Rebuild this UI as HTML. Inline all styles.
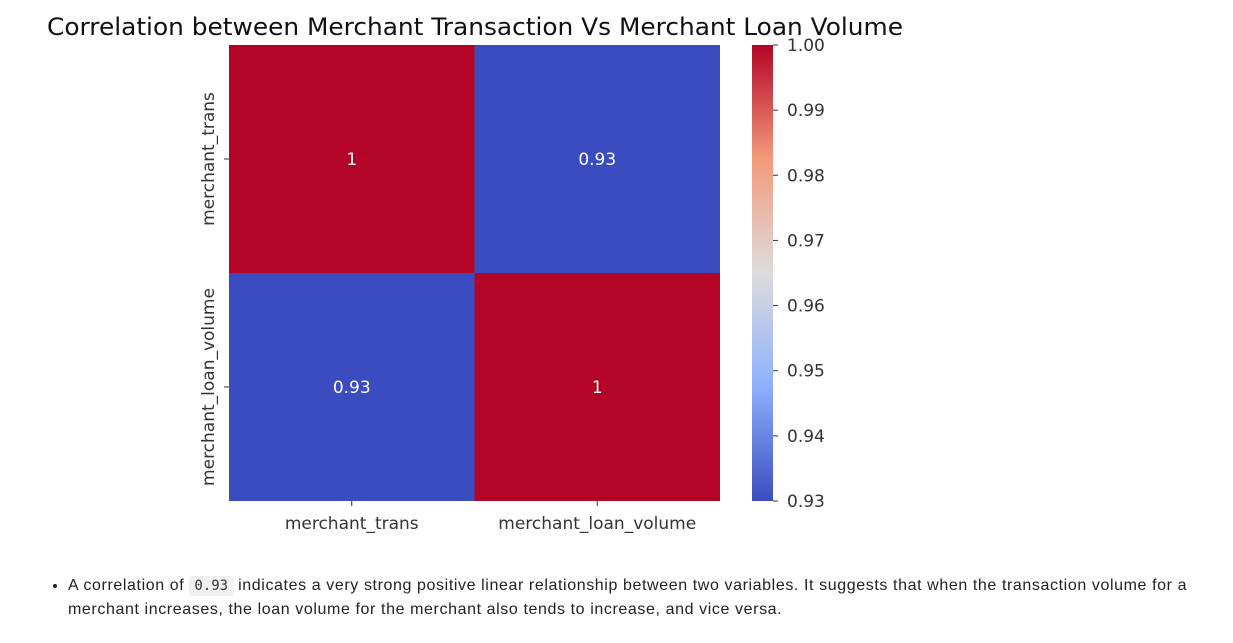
<!DOCTYPE html>
<html><head><meta charset="utf-8">
<style>
body{margin:0;background:#fff;width:1233px;height:643px;overflow:hidden;font-family:"Liberation Sans",sans-serif;}
#note{position:absolute;left:52px;top:574px;width:1180px;font-size:16px;letter-spacing:0.6px;line-height:23px;color:#222;white-space:nowrap;}
#note li{margin-left:16px;}
code{font-family:"DejaVu Sans Mono",monospace;background:#f0f0f0;padding:2px 5px;border-radius:3px;font-size:14px;letter-spacing:0;color:#333;}
svg{position:absolute;left:0;top:0;}
</style></head><body>
<svg id="chart" width="1233" height="560">
<defs><linearGradient id="cw" x1="0" y1="1" x2="0" y2="0">
<stop offset="0" stop-color="#3b4cc0"/><stop offset="0.25" stop-color="#8db0fe"/><stop offset="0.5" stop-color="#dddcdc"/><stop offset="0.75" stop-color="#f49a7b"/><stop offset="1" stop-color="#b40426"/>
</linearGradient></defs>
<text x="47" y="35" font-size="24" fill="#111" font-family="DejaVu Sans, sans-serif" textLength="856" lengthAdjust="spacingAndGlyphs">Correlation between Merchant Transaction Vs Merchant Loan Volume</text>
</svg>
<div id="note"><ul style="margin:0;padding:0;"><li>A correlation of <code>0.93</code> indicates a very strong positive linear relationship between two variables. It suggests that when the transaction volume for a<br>merchant increases, the loan volume for the merchant also tends to increase, and vice versa.</li></ul></div>
<script>
const labels = ["merchant_trans","merchant_loan_volume"];
const values = [[1,0.93],[0.93,1]];
const cbTicks = [0.93,0.94,0.95,0.96,0.97,0.98,0.99,1.00];
const vmin = 0.93, vmax = 1.0;

const svg = document.getElementById('chart');
const NS = 'http://www.w3.org/2000/svg';
const X0=229, X1=720, Y0=45, Y1=501;
const n = labels.length;
const cw=(X1-X0)/n, ch=(Y1-Y0)/n;
const xS = i => X0 + i*cw;
const yS = i => Y0 + i*ch;
const CB={x:752,w:21};
const cbY = v => Y1 - (v-vmin)/(vmax-vmin)*(Y1-Y0);
const FS=17;

function lerp(a,b,t){return a+(b-a)*t;}
const stops=[[0,[59,76,192]],[0.25,[141,176,254]],[0.5,[221,220,220]],[0.75,[244,154,123]],[1,[180,4,38]]];
function color(v){
  let t=Math.max(0,Math.min(1,(v-vmin)/(vmax-vmin)));
  for(let k=0;k<stops.length-1;k++){
    const [a,ca]=stops[k],[b,cb]=stops[k+1];
    if(t<=b){const u=(t-a)/(b-a);return `rgb(${ca.map((c,j)=>Math.round(lerp(c,cb[j],u))).join(',')})`;}
  }
  return 'rgb(180,4,38)';
}
function mk(tag,attrs){const e=document.createElementNS(NS,tag);for(const k in attrs)e.setAttribute(k,attrs[k]);svg.appendChild(e);return e;}

for(let r=0;r<n;r++){
  for(let c=0;c<n;c++){
    const v=values[r][c];
    const rect=mk('rect',{x:xS(c),y:yS(r),width:cw,height:ch,fill:color(v)});
    
    
    const t=mk('text',{x:xS(c)+cw/2,y:yS(r)+ch/2+6,'text-anchor':'middle','font-size':FS,fill:'#fff','font-family':'DejaVu Sans, sans-serif'});
    t.textContent = (v===1?'1':v.toFixed(2));
    
    
  }
}
labels.forEach((l,i)=>{
  const cx=xS(i)+cw/2;
  mk('line',{x1:cx,x2:cx,y1:Y1,y2:Y1+5,stroke:'#333'});
  const t=mk('text',{x:cx,y:Y1+28,'text-anchor':'middle','font-size':FS,fill:'#333','font-family':'DejaVu Sans, sans-serif'});
  t.textContent=l;
  
  
  const cy=yS(i)+ch/2;
  mk('line',{x1:X0-5,x2:X0,y1:cy,y2:cy,stroke:'#333'});
  const ty=mk('text',{x:0,y:0,'text-anchor':'middle','font-size':FS,fill:'#333','font-family':'DejaVu Sans, sans-serif',transform:`translate(${X0-15},${cy}) rotate(-90)`});
  ty.textContent=l;
  
  
});
const cb=mk('rect',{x:CB.x,y:Y0,width:CB.w,height:Y1-Y0,fill:'url(#cw)'});


cbTicks.forEach(v=>{
  const y=cbY(v);
  mk('line',{x1:CB.x+CB.w,x2:CB.x+CB.w+5,y1:y,y2:y,stroke:'#333'});
  const t=mk('text',{x:CB.x+CB.w+14,y:y+6,'font-size':FS,fill:'#333','font-family':'DejaVu Sans, sans-serif'});
  t.textContent=v.toFixed(2);
  
  
});
</script>
</body></html>
